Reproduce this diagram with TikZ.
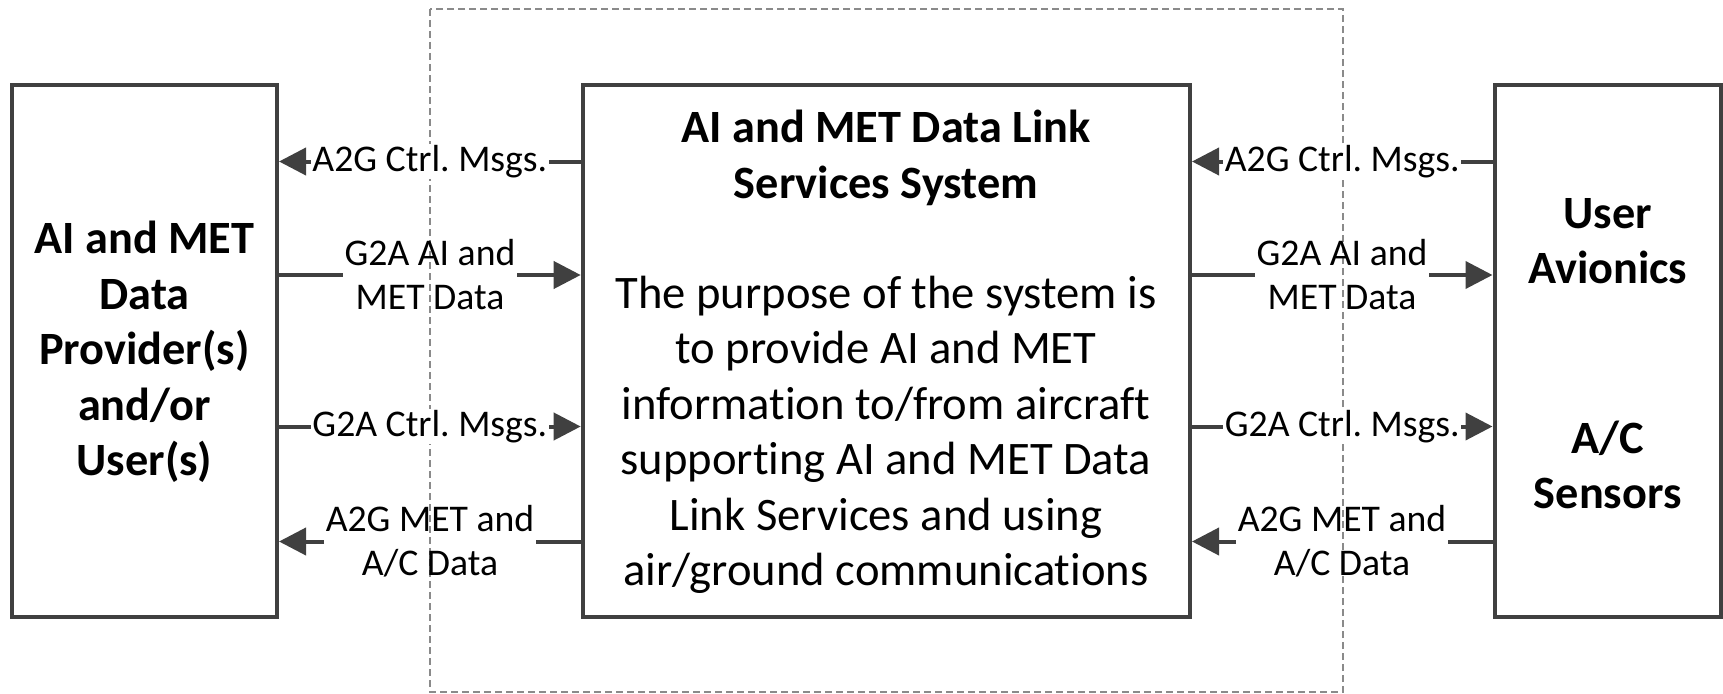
\documentclass[tikz,border=0pt]{standalone}
\usepackage{fontspec}
\setmainfont[Ligatures=NoCommon]{Carlito}
\usetikzlibrary{arrows.meta}
\definecolor{edge}{HTML}{404040}
\definecolor{dashc}{HTML}{8A8A8A}
\begin{document}
\begin{tikzpicture}[x=1pt,y=-1pt,
  box/.style={draw=edge, line width=4pt, fill=white, inner sep=0pt},
  big/.style={font=\fontsize{46.6}{55.5}\selectfont, align=center, inner sep=0pt},
  bigb/.style={font=\bfseries\fontsize{46.3}{55.5}\selectfont, align=center, inner sep=0pt},
  lab/.style={font=\fontsize{37.7}{44}\selectfont, align=center, inner sep=1.5pt},
  conn/.style={draw=edge, line width=4pt},
  tip/.style={-{Triangle[length=27pt,width=27pt]}},
  frame/.style={draw=dashc, line width=1.6pt, dash pattern=on 7pt off 4pt}
]
\useasboundingbox (0,0) rectangle (1723,693);
\draw[frame] (430,9) rectangle (1343,692);

\node[box, minimum width=265pt, minimum height=532pt] (L) at (144.5,351) {};
\node[box, minimum width=607.3pt, minimum height=532pt] (M) at (886.35,351) {};
\node[box, minimum width=226.5pt, minimum height=532pt] (R) at (1607.75,351) {};

\node[bigb] (Lt) at (144.5,352) {AI and MET\\Data\\Provider(s)\\and/or\\User(s)};
\node[bigb] (Mt) at (886,158) {AI and MET Data Link\\Services System};
\node[big] (Mb) at (886,435) {The purpose of the system is\\to provide AI and MET\\information to/from aircraft\\supporting AI and MET Data\\Link Services and using\\air/ground communications};
\node[bigb] (Rt1) at (1607.75,241) {User\\Avionics};
\node[bigb] (Rt2) at (1607.75,465) {A/C\\Sensors};

% left side
\draw[conn, tip] (M.west |- 0,161.5) coordinate (m1) -- (L.east |- m1)
  node[midway, lab, fill=white] (la1) {A2G Ctrl.~Msgs.};
\node[lab] (la2) at (430,275) {G2A AI and\\MET Data};
\draw[conn] (L.east |- la2) -- (la2.west);
\draw[conn, tip] (la2.east) -- (M.west |- la2);
\draw[conn, tip] (L.east |- 0,426.5) coordinate (l3) -- (M.west |- l3)
  node[midway, lab, fill=white] (la3) {G2A Ctrl.~Msgs.};
\node[lab] (la4) at (430,541.5) {A2G MET and\\A/C Data};
\draw[conn] (M.west |- la4) -- (la4.east);
\draw[conn, tip] (la4.west) -- (L.east |- la4);

% right side
\draw[conn, tip] (R.west |- 0,161.5) coordinate (r1) -- (M.east |- r1)
  node[midway, lab, fill=white] (lb1) {A2G Ctrl.~Msgs.};
\node[lab] (lb2) at (1342,275) {G2A AI and\\MET Data};
\draw[conn] (M.east |- lb2) -- (lb2.west);
\draw[conn, tip] (lb2.east) -- (R.west |- lb2);
\draw[conn, tip] (M.east |- 0,426.5) coordinate (r3) -- (R.west |- r3)
  node[midway, lab, fill=white] (lb3) {G2A Ctrl.~Msgs.};
\node[lab] (lb4) at (1342,541.5) {A2G MET and\\A/C Data};
\draw[conn] (R.west |- lb4) -- (lb4.east);
\draw[conn, tip] (lb4.west) -- (M.east |- lb4);
\end{tikzpicture}
\end{document}
